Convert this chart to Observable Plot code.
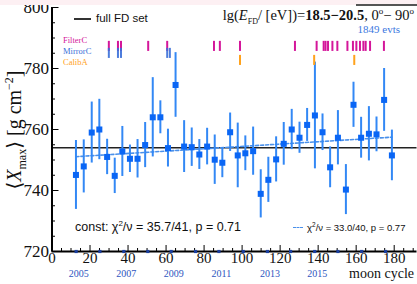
<!DOCTYPE html>
<html><head><meta charset="utf-8">
<script src="https://cdn.jsdelivr.net/npm/d3@7"></script>
<script src="https://cdn.jsdelivr.net/npm/@observablehq/plot@0.6"></script>
<style>
body{margin:0;background:#fff;}
#wrap{position:relative;width:417px;height:284px;overflow:hidden;background:#fff;}
#wrap svg{position:absolute;left:0;top:0;}
.t{position:absolute;white-space:nowrap;line-height:1;}
.serif{font-family:"Liberation Serif","DejaVu Serif",serif;}
.sans{font-family:"Liberation Sans",Arial,sans-serif;}
sup,sub{line-height:0;}
</style></head><body>
<div id="wrap"></div>
<script>
// ---- data ----
const moonCycle = [12.6,16.7,20.9,24.9,29.0,33.0,37.0,41.0,45.0,49.0,53.0,57.0,61.0,65.0,69.5,73.5,77.5,81.6,85.6,89.6,93.7,97.7,101.7,105.8,109.8,113.8,117.9,121.9,126.1,130.2,134.2,138.3,142.3,146.3,150.4,154.6,158.6,162.6,166.7,170.7,174.7,178.8];
const xmaxMean = [745.1,747.9,759.0,760.0,751.0,744.8,752.8,750.4,750.4,754.9,764.0,764.0,753.9,774.6,754.4,754.2,751.8,754.4,750.1,749.1,759.1,751.5,752.2,752.9,738.9,743.5,750.2,755.3,760.0,757.3,761.5,764.6,759.1,747.6,757.3,740.3,768.1,757.3,758.6,758.4,769.7,751.5];
const xmaxErr = [11.3,8.7,10.0,9.9,5.8,5.8,8.2,4.5,6.3,7.4,13.0,5.4,6.2,10.6,8.5,6.3,4.9,6.0,8.1,4.9,6.3,10.6,5.7,7.9,7.9,7.4,7.4,7.0,6.6,5.1,5.4,17.5,6.0,6.7,8.9,8.2,7.4,6.7,8.9,5.7,10.3,8.3];
const xTicks = [0,20,40,60,80,100,120,140,160,180];
const xMinorTicks = [5,10,15,25,30,35,45,50,55,65,70,75,85,90,95,105,110,115,125,130,135,145,150,155,165,170,175,185,190];
const yTicks = [720,740,760,780,800];
const yMinorTicks = [725,730,735,745,750,755,765,770,775,785,790,795];
const yearStart = [12.7,25.2,37.8,50.4,62.7,75.5,87.8,100.6,113.3,125.5,138.2,150.4,162.9,175.5];
const years = [2005,2006,2007,2008,2009,2010,2011,2012,2013,2014,2015,2016,2017,2018];
const labelledYears = [2005,2007,2009,2011,2013,2015];
const filterC = [29.9,34.7,36.3,50.6,60.6,85.2,88.3,98.9,127.8,139.2,142.9,143.9,145.2,147.5,150.1,155.4,158.3,160.1,162.0,163.8,165.0,167.3,174.6];
const mirrorC = [29.9,34.7,36.3,60.6,62.0];
const calibA = [98.9,137.9,159.0];
const constFit = 754.0;
const linFitA = 750.6, linFitB = 0.0385;

const points = moonCycle.map((m,i)=>({moon:m, v:xmaxMean[i], e:xmaxErr[i]}));
const xFirst = d3.min(moonCycle), xLast = d3.max(moonCycle);
const fitLine = [xFirst, xLast].map(m=>({moon:m, v: linFitA + linFitB*m}));
const yearRows = yearStart.map((m,i)=>({moon:m, year:years[i]}));

const SERIF = "Liberation Serif, DejaVu Serif, serif";
const blue = "#0a66f5", barBlue = "#3388f5";

const chart = Plot.plot({
  width: 417, height: 284,
  marginLeft: 51.5, marginRight: 0.5, marginTop: 7, marginBottom: 33,
  x: {domain: [0,192], axis: null},
  y: {domain: [720,800], axis: null},
  style: {background: "transparent", overflow: "visible"},
  marks: [
    Plot.ruleY([constFit], {stroke: "#222", strokeWidth: 1.6}),
    Plot.line(fitLine, {x: "moon", y: "v", stroke: "#4a90ea", strokeWidth: 1.6, strokeDasharray: "3,2"}),
    Plot.ruleX(points, {x: "moon", y1: d=>d.v-d.e, y2: d=>d.v+d.e, stroke: barBlue, strokeWidth: 2}),
    Plot.dot(points, {x: "moon", y: "v", symbol: "square", r: 3.4, fill: blue, stroke: "none"}),
    // calibration markers
    Plot.ruleX(filterC, {x: d=>d, y1: ()=>785.6, y2: ()=>788.9, stroke: "#d4169a", strokeWidth: 2}),
    Plot.ruleX(mirrorC, {x: d=>d, y1: ()=>783.3, y2: ()=>786.6, stroke: "#3a6fd8", strokeWidth: 2, strokeOpacity: 0.9}),
    Plot.ruleX(calibA, {x: d=>d, y1: ()=>781.0, y2: ()=>784.3, stroke: "#ffa21c", strokeWidth: 2}),
    // axes
    Plot.ruleX([0], {stroke: "#000", strokeWidth: 2}),
    Plot.ruleY([720], {stroke: "#000", strokeWidth: 2}),
    Plot.ruleX(xTicks, {x: d=>d, y1: ()=>720, y2: ()=>720, insetBottom: 6, stroke: "#000", strokeWidth: 1}),
    Plot.ruleX(xMinorTicks, {x: d=>d, y1: ()=>720, y2: ()=>720, insetBottom: 3, stroke: "#000", strokeWidth: 1}),
    Plot.ruleY(yTicks, {y: d=>d, x1: ()=>0, x2: ()=>0, insetRight: -7, stroke: "#000", strokeWidth: 1}),
    Plot.ruleY(yMinorTicks, {y: d=>d, x1: ()=>0, x2: ()=>0, insetRight: -3.5, stroke: "#000", strokeWidth: 1}),
    Plot.text(xTicks, {x: d=>d, y: ()=>720, text: d=>String(d), lineAnchor: "top", dy: 1, fontSize: 15, fontFamily: SERIF, fill: "#111"}),
    Plot.text(yTicks, {x: ()=>0, y: d=>d, text: d=>String(d), textAnchor: "end", dx: -3, fontSize: 17, fontFamily: SERIF, fill: "#111"}),
    Plot.dot(yearRows, {x: "moon", y: ()=>720, symbol: "square", r: 1.8, fill: "#1b3f9e", stroke: "none"}),
    Plot.text(yearRows.filter(d=>labelledYears.includes(d.year)), {x: "moon", y: ()=>720, text: d=>String(d.year), dx: 2.5, dy: 22.5, fontSize: 10, fontFamily: SERIF, fill: "#2d55c0"})
  ]
});
const wrap = document.getElementById("wrap");
wrap.appendChild(chart);

const overlays = `
<div style="position:absolute;left:0;top:0;width:417px;height:5px;background:#fdf0f3;"></div>
<div style="position:absolute;left:356px;top:4px;width:61px;height:1.5px;background:#555;"></div>
<div style="position:absolute;left:74px;top:18px;width:17px;height:2px;background:#333;"></div>
<div class="t sans" style="left:96px;top:13.4px;font-size:11.5px;color:#111;">full FD set</div>
<div class="t serif" style="right:3px;top:8px;font-size:14.5px;color:#111;">lg(<i>E</i><sub style="font-size:8px">FD</sub>/ [eV])=<b>18.5−20.5</b>, 0<sup style="font-size:9px">o</sup>− 90<sup style="font-size:9px">o</sup></div>
<div class="t serif" style="right:17px;top:24px;font-size:11px;color:#3c78e0;">1849 evts</div>
<div class="t serif" style="left:63px;top:35.7px;font-size:8.5px;color:#d4169a;">FilterC</div>
<div class="t serif" style="left:63px;top:47.4px;font-size:8.5px;color:#3a6fd8;">MirrorC</div>
<div class="t serif" style="left:63px;top:57.7px;font-size:8.5px;color:#ffa21c;">CalibA</div>
<div class="t sans" style="left:75px;top:221px;font-size:12.5px;color:#111;">const: χ<sup style="font-size:8px">2</sup>/ν = 35.7/41, p = 0.71</div>
<div style="position:absolute;left:293px;top:227px;width:10px;height:0;border-top:1.6px dashed #4a90ea;"></div>
<div class="t sans" style="left:307px;top:222.5px;font-size:9.5px;color:#111;">χ<sup style="font-size:6.5px">2</sup>/ν = 33.0/40, p = 0.77</div>
<div class="t serif" style="right:3px;top:267.3px;font-size:14px;color:#111;">moon cycle</div>
<div class="t serif" style="left:14px;top:130px;font-size:20px;color:#111;transform:translate(-50%,-50%) rotate(-90deg);">⟨<i>X</i><sub style="font-size:12px">max</sub>⟩ [g cm<sup style="font-size:12px">−2</sup>]</div>
`;
wrap.insertAdjacentHTML("beforeend", overlays);
</script>
</body></html>
